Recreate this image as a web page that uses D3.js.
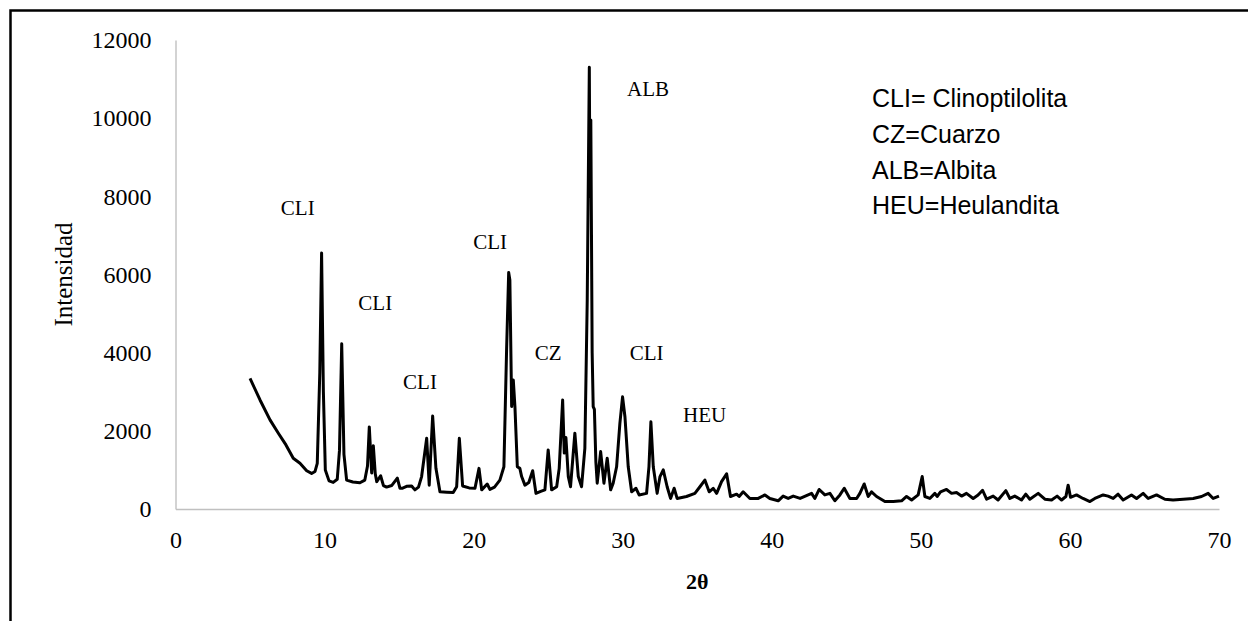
<!DOCTYPE html>
<html>
<head>
<meta charset="utf-8">
<script src="https://cdn.jsdelivr.net/npm/d3@7/dist/d3.min.js"></script>
<style>
  html, body { margin: 0; padding: 0; background: #fff; }
  svg { display: block; }
</style>
</head>
<body>
<svg id="chart" width="1248" height="621"></svg>
<script>
// Diffractogram: 2θ positions (degrees) and measured intensity (counts)
const twoTheta = [
  5.0, 5.67, 6.34, 6.9, 7.41, 7.9, 8.35, 8.8, 9.13, 9.36, 9.51, 9.68, 9.8, 9.92, 10.05,
  10.3, 10.58, 10.85, 11.0, 11.15, 11.3, 11.48, 11.9, 12.37, 12.7, 12.88, 13.0, 13.16, 13.27, 13.4,
  13.5, 13.76, 13.95, 14.16, 14.5, 14.88, 15.06, 15.2, 15.5, 15.84, 16.06, 16.3, 16.51, 16.85, 17.02,
  17.25, 17.47, 17.74, 18.2, 18.63, 18.86, 19.04, 19.26, 19.7, 20.09, 20.36, 20.54, 20.91, 21.09, 21.4,
  21.76, 22.03, 22.21, 22.35, 22.43, 22.55, 22.66, 22.77, 22.93, 23.1, 23.22, 23.44, 23.7, 23.96, 24.18,
  24.5, 24.78, 25.0, 25.23, 25.57, 25.74, 25.97, 26.08, 26.19, 26.35, 26.5, 26.79, 27.02, 27.24, 27.46,
  27.62, 27.76, 27.8, 27.86, 27.95, 28.02, 28.1, 28.2, 28.29, 28.52, 28.74, 28.96, 29.19, 29.36, 29.59,
  29.81, 29.99, 30.15, 30.37, 30.6, 30.89, 31.1, 31.6, 31.76, 31.89, 32.05, 32.31, 32.5, 32.72, 32.98,
  33.21, 33.45, 33.65, 34.28, 34.84, 35.18, 35.51, 35.8, 36.07, 36.3, 36.63, 36.97, 37.23, 37.64, 37.81,
  38.08, 38.53, 39.09, 39.54, 39.87, 40.43, 40.76, 41.1, 41.44, 41.9, 42.67, 42.89, 43.18, 43.56, 43.9,
  44.23, 44.57, 44.86, 45.24, 45.69, 45.91, 46.2, 46.47, 46.69, 47.03, 47.59, 48.15, 48.71, 49.04, 49.38,
  49.82, 50.09, 50.27, 50.6, 50.94, 51.09, 51.32, 51.72, 52.06, 52.39, 52.73, 53.06, 53.51, 53.84, 54.14,
  54.41, 54.85, 55.18, 55.7, 55.97, 56.3, 56.75, 57.04, 57.31, 57.87, 58.32, 58.77, 59.14, 59.44, 59.73,
  59.88, 60.04, 60.44, 60.88, 61.34, 61.67, 62.23, 62.56, 62.9, 63.23, 63.57, 64.13, 64.47, 64.91, 65.25,
  65.81, 66.37, 66.92, 67.6, 68.27, 68.83, 69.27, 69.61, 70.0
];
const intensity = [
  3340, 2790, 2280, 1940, 1640, 1300, 1170, 980, 910, 960, 1170, 3500, 6550, 3000, 1000,
  720, 680, 760, 1500, 4230, 1400, 740, 690, 670, 740, 1100, 2100, 920, 1620, 900,
  700, 850, 600, 560, 600, 790, 530, 530, 580, 590, 490, 560, 830, 1810, 610,
  2380, 1040, 440, 430, 420, 570, 1810, 590, 540, 530, 1040, 490, 640, 500, 560,
  740, 1080, 4070, 6050, 5860, 2620, 3300, 2620, 1080, 1040, 830, 610, 680, 980, 400,
  450, 490, 1510, 490, 570, 1040, 2790, 1430, 1830, 830, 570, 1940, 830, 570, 1550,
  5350, 11300, 8000, 9950, 4000, 2620, 2550, 1200, 660, 1470, 660, 1300, 490, 660, 1080,
  2190, 2870, 2360, 1080, 440, 530, 360, 400, 1080, 2230, 1080, 400, 830, 1000, 570,
  270, 530, 270, 320, 400, 570, 740, 440, 530, 400, 700, 900, 320, 380, 320,
  440, 270, 270, 360, 270, 210, 330, 270, 330, 270, 400, 270, 500, 360, 400,
  210, 360, 530, 270, 270, 400, 640, 320, 440, 320, 190, 190, 210, 320, 230,
  360, 830, 320, 270, 400, 320, 440, 500, 400, 420, 330, 400, 270, 360, 480,
  250, 330, 230, 470, 270, 330, 230, 380, 250, 400, 250, 230, 330, 230, 320,
  610, 300, 360, 270, 190, 270, 360, 330, 270, 380, 230, 360, 270, 400, 270,
  360, 250, 230, 250, 270, 320, 400, 270, 330
];

// Axis ticks
const xTicks = [0, 10, 20, 30, 40, 50, 60, 70];
const yTicks = [0, 2000, 4000, 6000, 8000, 10000, 12000];

// Phase labels placed over the peaks (2θ, intensity)
const phaseLabels = ["CLI", "CLI", "CLI", "CLI", "CZ", "ALB", "CLI", "HEU"];
const phaseX = [8.2, 13.4, 16.4, 21.1, 25.0, 31.7, 31.6, 35.5];
const phaseY = [7520, 5080, 3060, 6650, 3800, 10570, 3800, 2220];

// Legend lines
const legendLines = ["CLI= Clinoptilolita", "CZ=Cuarzo", "ALB=Albita", "HEU=Heulandita"];

const svg = d3.select("#chart");

// Outer frame
svg.append("rect")
  .attr("x", 10.5).attr("y", 10.5)
  .attr("width", 1400).attr("height", 800)
  .attr("fill", "none").attr("stroke", "#000").attr("stroke-width", 2.5);

const plotLeft = 175.5, plotRight = 1219, plotTop = 40, plotBottom = 509;
const x = d3.scaleLinear().domain([0, 70]).range([plotLeft, plotRight]);
const y = d3.scaleLinear().domain([0, 12000]).range([plotBottom, plotTop]);

const serif = "'Liberation Serif', 'Times New Roman', serif";

// Y axis
const yAxis = svg.append("g")
  .attr("transform", `translate(${plotLeft},0)`)
  .call(d3.axisLeft(y).tickValues(yTicks).tickSize(0).tickPadding(24).tickFormat(d3.format("d")));
yAxis.select(".domain").attr("stroke", "#c0c0c0").attr("stroke-width", 1.4);
yAxis.selectAll("text").attr("font-family", serif).attr("font-size", 24).attr("fill", "#000");

// X axis
const xAxis = svg.append("g")
  .attr("transform", `translate(0,${plotBottom})`)
  .call(d3.axisBottom(x).tickValues(xTicks).tickSize(0).tickPadding(22).tickFormat(d3.format("d")));
xAxis.select(".domain").attr("stroke", "#c0c0c0").attr("stroke-width", 1.4);
xAxis.selectAll("text").attr("font-family", serif).attr("font-size", 24).attr("fill", "#000");

// Axis titles
svg.append("text")
  .attr("transform", `translate(72,${(plotTop + plotBottom) / 2}) rotate(-90)`)
  .attr("text-anchor", "middle")
  .attr("font-family", serif).attr("font-size", 25)
  .text("Intensidad");

svg.append("text")
  .attr("x", (plotLeft + plotRight) / 2).attr("y", 589)
  .attr("text-anchor", "middle")
  .attr("font-family", serif).attr("font-size", 22).attr("font-weight", "bold")
  .text("2θ");

// Diffraction pattern
const pts = twoTheta.map((t, i) => [t, intensity[i]]);
svg.append("path")
  .datum(pts)
  .attr("fill", "none")
  .attr("stroke", "#000")
  .attr("stroke-width", 3)
  .attr("stroke-linejoin", "round")
  .attr("d", d3.line().x(d => x(d[0])).y(d => y(d[1])));

// Phase labels
svg.append("g").selectAll("text")
  .data(phaseLabels)
  .join("text")
  .attr("x", (d, i) => x(phaseX[i]))
  .attr("y", (d, i) => y(phaseY[i]))
  .attr("text-anchor", "middle")
  .attr("font-family", serif).attr("font-size", 21)
  .text(d => d);

// Legend
svg.append("g").selectAll("text")
  .data(legendLines)
  .join("text")
  .attr("x", 872)
  .attr("y", (d, i) => 107.3 + i * 35.7)
  .attr("font-family", "'Liberation Sans', Arial, sans-serif").attr("font-size", 25)
  .text(d => d);
</script>
</body>
</html>
